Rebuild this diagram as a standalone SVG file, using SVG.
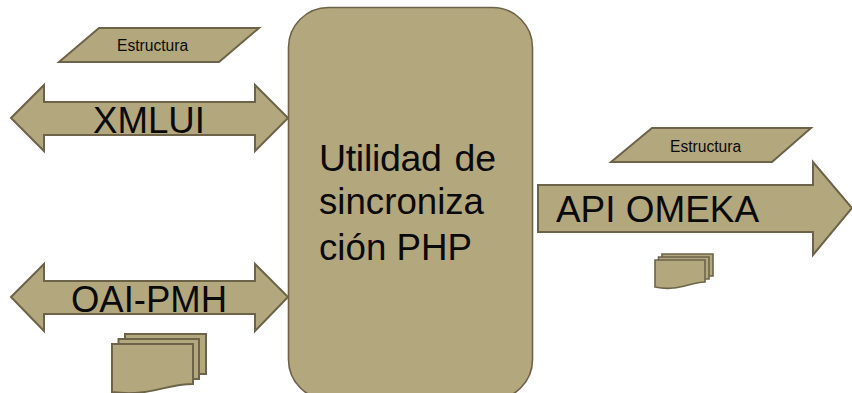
<svg xmlns="http://www.w3.org/2000/svg" width="852" height="393" viewBox="0 0 852 393">
<style>
.s{fill:#b3a77d;stroke:#6d6349;stroke-width:2;stroke-linejoin:miter}
.t{stroke-width:1.6}
text{font-family:"Liberation Sans",Arial,sans-serif;fill:#0a0a0a;font-size:37.5px}
.l{font-size:15.6px}
</style>
<rect width="852" height="393" fill="#fff"/>
<g id="connectors">
<g id="xmlui"><path class="s" d="M11 118L44 85V102H255V85L288 118L255 151V135H44V151Z"/><text x="93" y="133" textLength="112" lengthAdjust="spacingAndGlyphs">XMLUI</text></g>
<g id="oai-pmh"><path class="s" d="M11 297L44 264V281H255V264L288 297L255 331V314H44V331Z"/><text x="71" y="312" textLength="156" lengthAdjust="spacingAndGlyphs">OAI-PMH</text></g>
<g id="api-omeka"><path class="s" d="M538 185H813V162L852 208L813 255V232H538Z"/><text x="556" y="222" textLength="203" lengthAdjust="spacingAndGlyphs">API OMEKA</text></g>
</g>
<g id="estructura-1"><path class="s" d="M59 62L99 28H259L219 62Z"/><text class="l" x="117" y="51">Estructura</text></g>
<g id="estructura-2"><path class="s" d="M611 162L652 128H811L772 162Z"/><text class="l" x="670" y="152">Estructura</text></g>
<g id="documentos-1">
<path class="s" d="M125 334H206V374H125Z"/>
<path class="s" d="M118.500 339H199V379H118.500Z"/>
<path class="s" d="M112 344H193V384C165 384 150 397 112 392Z"/>
</g>
<g id="documentos-2">
<path class="s t" d="M662 254H713V276H662Z"/>
<path class="s t" d="M658.500 257H709V279H658.500Z"/>
<path class="s t" d="M655 260H705V282C690 282 677 292 655 287Z"/>
</g>
<g id="utilidad"><rect class="s t" x="288.500" y="7.500" width="244" height="392" rx="40" ry="40"/>
<text x="319" y="171" textLength="177" lengthAdjust="spacing" word-spacing="3">Utilidad de</text>
<text x="319" y="214" textLength="165" lengthAdjust="spacingAndGlyphs">sincroniza</text>
<text x="319" y="260" textLength="153" lengthAdjust="spacingAndGlyphs">ción PHP</text></g>
</svg>
